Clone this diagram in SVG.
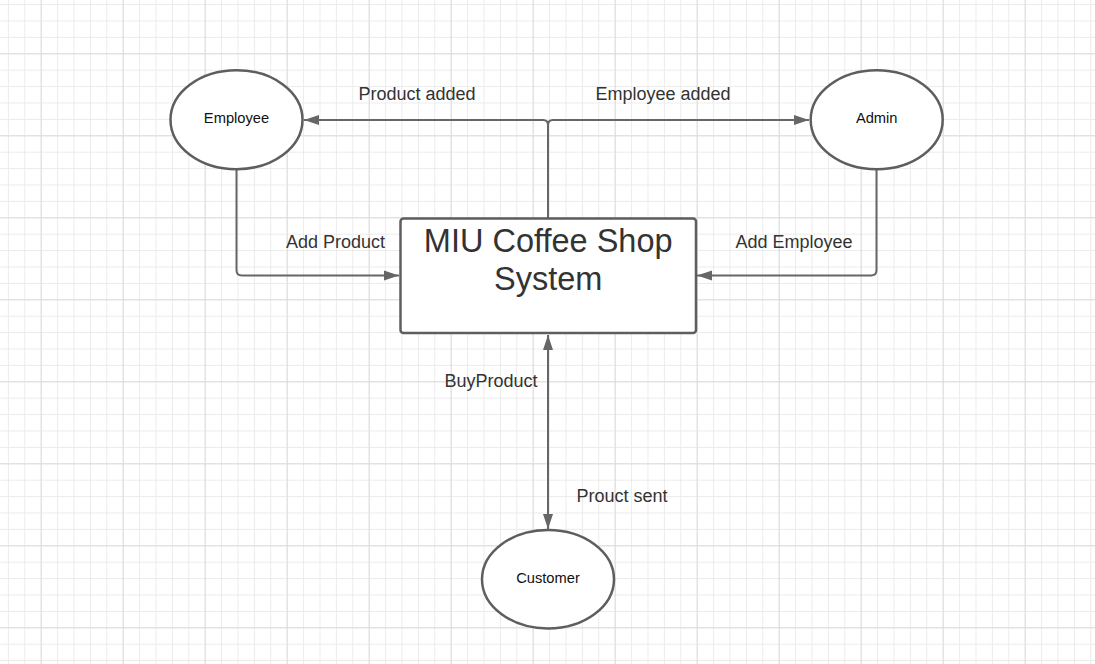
<svg xmlns="http://www.w3.org/2000/svg" width="1095" height="664" viewBox="0 0 1095 664">
  <defs>
    <pattern id="minor" x="7.9" y="4.1" width="16.4" height="16.4" patternUnits="userSpaceOnUse">
      <path d="M0,0.5 H16.4 M0.5,0 V16.4" fill="none" stroke="#ebebeb" stroke-width="1"/>
    </pattern>
    <pattern id="major" x="40.7" y="53.3" width="82" height="82" patternUnits="userSpaceOnUse">
      <path d="M0,0.5 H82 M0.5,0 V82" fill="none" stroke="#dcdcdc" stroke-width="1"/>
    </pattern>
    <marker id="arrow" markerUnits="userSpaceOnUse" markerWidth="15" markerHeight="11" viewBox="0 0 15 10" refX="15" refY="5" orient="auto-start-reverse">
      <path d="M0,0 L15,5 L0,10 z" fill="#666666"/>
    </marker>
  </defs>
  <style>
    .node { fill: #ffffff; stroke: #5e5e5e; stroke-width: 2.5; }
    .conn { fill: none; stroke: #666666; stroke-width: 2; }
    .nlabel { font-family: "Liberation Sans", Arial, sans-serif; font-size: 14.7px; fill: #111111; text-anchor: middle; }
    .elabel { font-family: "Liberation Sans", Arial, sans-serif; font-size: 18px; fill: #333333; }
    .title { font-family: "Liberation Sans", Arial, sans-serif; font-size: 32.5px; fill: #333333; text-anchor: middle; }
  </style>
  <rect width="1095" height="664" fill="#ffffff"/>
  <rect width="1095" height="664" fill="url(#minor)"/>
  <rect width="1095" height="664" fill="url(#major)"/>

  <g id="connectors">
    <path class="conn" d="M548,218 V125 Q548,120 543,120 H304" marker-end="url(#arrow)"/>
    <path class="conn" d="M548,125 Q548,120 553,120 H809" marker-end="url(#arrow)"/>
    <path class="conn" d="M236.5,169 V270 Q236.5,275.5 242,275.5 H399" marker-end="url(#arrow)"/>
    <path class="conn" d="M876.5,169 V270 Q876.5,275.5 871,275.5 H697" marker-end="url(#arrow)"/>
    <path class="conn" d="M548,335 V529" marker-start="url(#arrow)" marker-end="url(#arrow)"/>
    <text class="elabel" x="417" y="100" text-anchor="middle">Product added</text>
    <text class="elabel" x="663" y="100" text-anchor="middle">Employee added</text>
    <text class="elabel" x="335.5" y="248" text-anchor="middle">Add Product</text>
    <text class="elabel" x="794" y="248" text-anchor="middle">Add Employee</text>
    <text class="elabel" x="491" y="387" text-anchor="middle">BuyProduct</text>
    <text class="elabel" x="622" y="502" text-anchor="middle">Prouct sent</text>
  </g>

  <g id="employee">
    <ellipse class="node" cx="236.5" cy="119.7" rx="66" ry="49.5"/>
    <text class="nlabel" x="236.5" y="123.3">Employee</text>
  </g>
  <g id="admin">
    <ellipse class="node" cx="876.7" cy="119.7" rx="66" ry="49.5"/>
    <text class="nlabel" x="876.7" y="123.3">Admin</text>
  </g>
  <g id="customer">
    <ellipse class="node" cx="548" cy="579.2" rx="66" ry="49.2"/>
    <text class="nlabel" x="548" y="582.5">Customer</text>
  </g>
  <g id="system">
    <rect class="node" x="400.5" y="218.5" width="295.5" height="114.5" rx="3" ry="3"/>
    <text class="title" x="548.2" y="252">MIU Coffee Shop</text>
    <text class="title" x="548.2" y="290">System</text>
  </g>
</svg>
